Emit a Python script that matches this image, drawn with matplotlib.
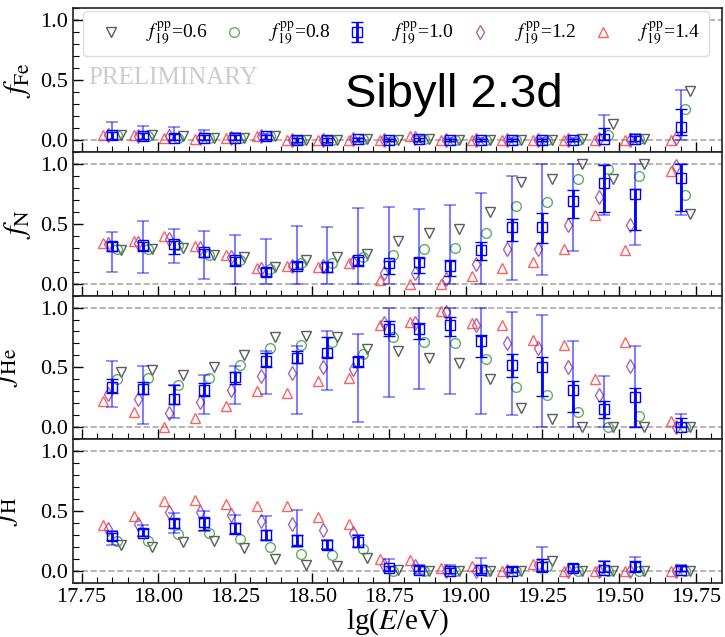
import numpy as np
import matplotlib
matplotlib.use('Agg')
import matplotlib.pyplot as plt
from matplotlib.ticker import MultipleLocator

plt.rcParams['font.family'] = ['Liberation Serif', 'DejaVu Serif']
plt.rcParams['mathtext.fontset'] = 'stix'

# ======================================
# Data
# ======================================
lgE = [17.85, 17.95, 18.05, 18.15, 18.25, 18.35, 18.45, 18.55, 18.65, 18.75,
       18.85, 18.95, 19.05, 19.15, 19.25, 19.35, 19.45, 19.55, 19.70]
fpp_labels = ['0.6', '0.8', '1.0', '1.2', '1.4']

# Fe
fe_06 = [0.04, 0.04, 0.03, 0.02, 0.02, 0.03, 0.0, 0.0, 0.01, 0.0, 0.01, 0.0, 0.0, 0.0, 0.0, 0.01, 0.13, 0.01, 0.41]
fe_08 = [0.04, 0.03, 0.02, 0.02, 0.02, 0.03, 0.0, 0.0, 0.01, 0.0, 0.01, 0.0, 0.0, 0.0, 0.0, 0.0, 0.04, 0.01, 0.26]
fe_10 = [0.04, 0.03, 0.02, 0.02, 0.02, 0.03, 0.0, 0.0, 0.01, 0.0, 0.01, 0.0, 0.0, 0.0, 0.0, 0.0, 0.01, 0.01, 0.11]
fe_12 = [0.04, 0.03, 0.03, 0.02, 0.02, 0.03, 0.0, 0.0, 0.01, 0.0, 0.02, 0.0, 0.0, 0.0, 0.0, 0.0, 0.01, 0.0, 0.02]
fe_14 = [0.04, 0.04, 0.02, 0.01, 0.02, 0.03, 0.0, 0.0, 0.0, 0.0, 0.03, 0.0, 0.0, 0.0, 0.0, 0.0, 0.0, 0.0, 0.0]
fe_stat_lo = [0.01, 0.01, 0.0, 0.0, 0.0, 0.01, -0.02, -0.02, -0.01, -0.01, -0.01, -0.01, -0.01, -0.01, -0.01, -0.01, 0.0, -0.01, 0.04]
fe_stat_hi = [0.07, 0.06, 0.05, 0.04, 0.04, 0.04, 0.02, 0.02, 0.02, 0.01, 0.02, 0.01, 0.01, 0.01, 0.01, 0.01, 0.10, 0.03, 0.26]
fe_sys_lo = [0.0, 0.0, 0.0, 0.0, 0.0, 0.0, -0.03, -0.03, -0.02, -0.02, -0.02, -0.02, -0.02, -0.02, -0.02, -0.02, 0.0, -0.02, 0.0]
fe_sys_hi = [0.15, 0.12, 0.11, 0.08, 0.06, 0.05, 0.03, 0.03, 0.02, 0.02, 0.03, 0.02, 0.02, 0.02, 0.02, 0.02, 0.21, 0.05, 0.42]

# N
n_06 = [0.28, 0.29, 0.30, 0.24, 0.22, 0.14, 0.20, 0.22, 0.25, 0.36, 0.42, 0.46, 0.60, 0.85, 0.87, 1.00, 0.87, 1.00, 0.58]
n_08 = [0.29, 0.29, 0.32, 0.24, 0.20, 0.12, 0.17, 0.17, 0.22, 0.24, 0.29, 0.30, 0.42, 0.65, 0.68, 0.87, 0.96, 0.90, 0.74]
n_10 = [0.31, 0.32, 0.33, 0.26, 0.20, 0.10, 0.15, 0.14, 0.20, 0.17, 0.18, 0.15, 0.28, 0.47, 0.47, 0.69, 0.84, 0.75, 0.88]
n_12 = [0.33, 0.34, 0.37, 0.30, 0.22, 0.12, 0.15, 0.15, 0.18, 0.09, 0.09, 0.04, 0.16, 0.29, 0.29, 0.49, 0.72, 0.49, 0.98]
n_14 = [0.34, 0.36, 0.40, 0.31, 0.24, 0.13, 0.15, 0.14, 0.17, 0.03, 0.0, 0.0, 0.06, 0.13, 0.18, 0.29, 0.57, 0.28, 0.94]
n_stat_lo = [0.27, 0.27, 0.25, 0.22, 0.15, 0.06, 0.12, 0.10, 0.15, 0.08, 0.09, 0.06, 0.20, 0.36, 0.34, 0.55, 0.60, 0.45, 0.61]
n_stat_hi = [0.35, 0.35, 0.36, 0.29, 0.22, 0.13, 0.18, 0.18, 0.22, 0.19, 0.21, 0.20, 0.35, 0.54, 0.59, 0.78, 0.99, 0.79, 1.00]
n_sys_lo = [0.10, 0.085, 0.17, 0.04, 0.0, 0.0, 0.0, 0.0, 0.0, 0.0, 0.0, 0.0, 0.0, 0.03, 0.07, 0.27, 0.57, 0.32, 0.57]
n_sys_hi = [0.43, 0.52, 0.46, 0.44, 0.41, 0.37, 0.48, 0.47, 0.63, 0.64, 0.62, 0.66, 0.76, 0.90, 1.00, 1.00, 0.99, 1.00, 1.00]

# He
he_06 = [0.46, 0.48, 0.44, 0.50, 0.60, 0.75, 0.76, 0.75, 0.65, 0.64, 0.58, 0.54, 0.40, 0.16, 0.07, 0.0, 0.0, 0.0, 0.0]
he_08 = [0.40, 0.41, 0.35, 0.41, 0.52, 0.66, 0.69, 0.71, 0.61, 0.75, 0.71, 0.70, 0.57, 0.34, 0.27, 0.13, 0.0, 0.09, 0.0]
he_10 = [0.34, 0.32, 0.24, 0.31, 0.42, 0.55, 0.58, 0.62, 0.55, 0.82, 0.82, 0.85, 0.72, 0.52, 0.50, 0.31, 0.15, 0.25, 0.0]
he_12 = [0.28, 0.24, 0.12, 0.21, 0.31, 0.43, 0.45, 0.50, 0.49, 0.87, 0.87, 0.96, 0.85, 0.70, 0.66, 0.50, 0.27, 0.51, 0.0]
he_14 = [0.22, 0.13, 0.0, 0.08, 0.18, 0.30, 0.29, 0.39, 0.41, 0.85, 0.88, 0.97, 0.87, 0.85, 0.73, 0.69, 0.40, 0.71, 0.05]
he_stat_lo = [0.29, 0.28, 0.19, 0.26, 0.36, 0.50, 0.54, 0.59, 0.50, 0.76, 0.74, 0.76, 0.59, 0.42, 0.26, 0.13, 0.08, 0.0, 0.0]
he_stat_hi = [0.40, 0.38, 0.35, 0.37, 0.46, 0.62, 0.64, 0.75, 0.59, 0.89, 0.87, 0.92, 0.77, 0.61, 0.59, 0.39, 0.22, 0.33, 0.08]
he_sys_lo = [0.17, 0.03, 0.08, 0.11, 0.19, 0.28, 0.11, 0.31, 0.04, 0.25, 0.32, 0.28, 0.11, 0.10, 0.0, 0.0, 0.0, 0.0, 0.0]
he_sys_hi = [0.55, 0.51, 0.35, 0.44, 0.51, 0.64, 0.68, 0.80, 0.78, 1.00, 1.00, 1.00, 1.00, 0.96, 0.94, 0.72, 0.43, 0.68, 0.11]

# H
h_06 = [0.22, 0.20, 0.24, 0.25, 0.19, 0.10, 0.05, 0.04, 0.11, 0.01, 0.0, 0.0, 0.0, 0.0, 0.08, 0.0, 0.0, 0.0, 0.0]
h_08 = [0.25, 0.25, 0.31, 0.32, 0.27, 0.20, 0.14, 0.13, 0.18, 0.0, 0.0, 0.0, 0.0, 0.0, 0.04, 0.0, 0.0, 0.0, 0.0]
h_10 = [0.29, 0.32, 0.40, 0.41, 0.36, 0.30, 0.26, 0.22, 0.24, 0.02, 0.01, 0.0, 0.01, 0.0, 0.03, 0.02, 0.01, 0.03, 0.01]
h_12 = [0.35, 0.39, 0.49, 0.49, 0.47, 0.42, 0.39, 0.34, 0.32, 0.05, 0.04, 0.0, 0.0, 0.0, 0.05, 0.0, 0.0, 0.0, 0.0]
h_14 = [0.38, 0.46, 0.58, 0.59, 0.56, 0.54, 0.54, 0.45, 0.39, 0.10, 0.09, 0.02, 0.04, 0.0, 0.06, 0.0, 0.0, 0.0, 0.0]
h_stat_lo = [0.26, 0.29, 0.36, 0.34, 0.31, 0.26, 0.21, 0.18, 0.20, 0.0, 0.0, -0.02, -0.02, -0.01, 0.0, 0.0, -0.01, 0.0, 0.0]
h_stat_hi = [0.32, 0.35, 0.43, 0.44, 0.40, 0.34, 0.30, 0.26, 0.30, 0.04, 0.04, 0.02, 0.05, 0.03, 0.10, 0.06, 0.08, 0.08, 0.04]
h_sys_lo = [0.22, 0.29, 0.32, 0.33, 0.31, 0.26, 0.20, 0.18, 0.20, 0.0, -0.03, -0.03, -0.03, -0.02, -0.01, -0.01, -0.01, -0.01, -0.01]
h_sys_hi = [0.33, 0.38, 0.48, 0.50, 0.47, 0.46, 0.51, 0.26, 0.30, 0.10, 0.05, 0.05, 0.11, 0.03, 0.20, 0.06, 0.08, 0.12, 0.05]

panels = [
    (r'$f_{\rm Fe}$', [fe_06, fe_08, fe_10, fe_12, fe_14], fe_stat_lo, fe_stat_hi, fe_sys_lo, fe_sys_hi),
    (r'$f_{\rm N}$', [n_06, n_08, n_10, n_12, n_14], n_stat_lo, n_stat_hi, n_sys_lo, n_sys_hi),
    (r'$f_{\rm He}$', [he_06, he_08, he_10, he_12, he_14], he_stat_lo, he_stat_hi, he_sys_lo, he_sys_hi),
    (r'$f_{\rm H}$', [h_06, h_08, h_10, h_12, h_14], h_stat_lo, h_stat_hi, h_sys_lo, h_sys_hi),
]

# ======================================
# Styles per f19pp
# ======================================
offsets = [0.03, 0.015, 0.0, -0.015, -0.03]
markers = ['v', 'o', 's', 'd', '^']
colors = ['#333333', '#3a9a3a', 'b', '#9440a8', '#ff3a3a']
msizes = [7, 7, 6.5, 7.5, 7.5]
label_x = [-0.062, -0.062, -0.082, -0.082]

# ======================================
# Plot
# ======================================
fig = plt.figure(figsize=(7.25, 6.37), dpi=100)
axes = fig.subplots(4, 1, sharex=True)
fig.subplots_adjust(left=0.101, right=0.996, top=0.987, bottom=0.085, hspace=0)

x = np.array(lgE)
for i, (ylab, series, slo, shi, ylo, yhi) in enumerate(panels):
    ax = axes[i]
    ax.axhline(0, color='#aaaaaa', ls='--', lw=1.2, zorder=0)
    ax.axhline(1, color='#aaaaaa', ls='--', lw=1.2, zorder=0)
    handles = []
    for j, vals in enumerate(series):
        v = np.array(vals)
        lab = r'$f_{19}^{\rm pp}$=' + fpp_labels[j]
        if j == 2:
            ax.errorbar(x + offsets[j], v, yerr=[v - np.array(ylo), np.array(yhi) - v],
                        fmt='none', ecolor='b', alpha=0.5, elinewidth=1.5,
                        capsize=4.5, capthick=1.2, zorder=3)
            h = ax.errorbar(x + offsets[j], v, yerr=[v - np.array(slo), np.array(shi) - v],
                            fmt='s', mfc='none', mec='b', ms=msizes[j], mew=1.0,
                            ecolor='b', elinewidth=2, capsize=4.5, capthick=1.2,
                            label=lab, zorder=4)
        else:
            h, = ax.plot(x + offsets[j], v, ls='none', marker=markers[j], mfc='none',
                         mec=colors[j], ms=msizes[j], mew=1.0, alpha=0.8,
                         label=lab, zorder=2)
        handles.append(h)
    ax.set_ylim(-0.1, 1.1)
    ax.set_xlim(17.723, 19.835)
    ax.yaxis.set_major_locator(MultipleLocator(0.5))
    ax.yaxis.set_minor_locator(MultipleLocator(0.1))
    ax.xaxis.set_major_locator(MultipleLocator(0.25))
    ax.xaxis.set_minor_locator(MultipleLocator(0.05))
    ax.tick_params(which='both', direction='in', labelsize=16)
    ax.tick_params(which='major', length=7, width=1)
    ax.tick_params(which='minor', length=4, width=0.8)
    ax.set_yticks([0.0, 0.5, 1.0])
    ax.set_yticklabels(['0.0', '0.5', '1.0'])
    ax.set_ylabel(ylab, fontsize=22)
    ax.yaxis.set_label_coords(label_x[i], 0.5)
    for s in ax.spines.values():
        s.set_linewidth(1.2)
        s.set_color('#222222')

ax0 = axes[0]
ax0.legend(handles=handles, ncol=5, loc='center', fontsize=14,
           bbox_to_anchor=(0.0, 0.708, 0.995, 0.23), mode='expand',
           handletextpad=0.8, borderpad=0.45, frameon=True,
           edgecolor='#dddddd', fancybox=True, framealpha=1.0)
ax0.text(0.023, 0.47, 'PRELIMINARY', transform=ax0.transAxes, fontsize=18,
         color='#cccccc', ha='left', va='baseline')
ax0.text(0.419, 0.3125, 'Sibyll 2.3d', transform=ax0.transAxes, fontsize=34,
         family='Liberation Sans', ha='left', va='baseline')

axes[3].set_xlabel(r'lg($E$/eV)', fontsize=21, labelpad=0)

plt.savefig('out.png', dpi=100)
